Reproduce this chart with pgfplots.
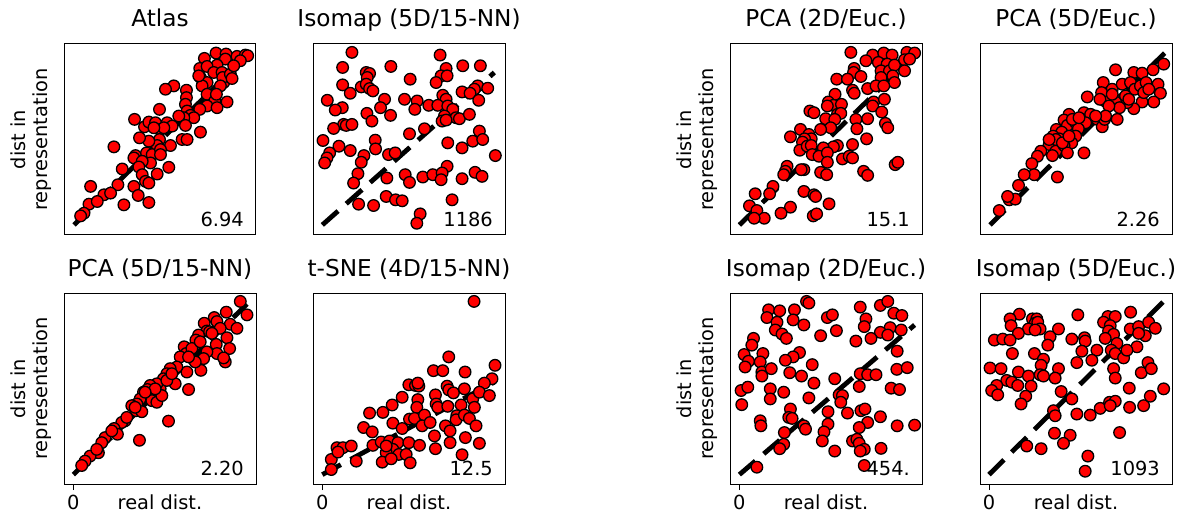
\documentclass[border=0pt]{standalone}
\usepackage{pgfplots}
\pgfplotsset{compat=1.18}
\usepackage{fontspec}
\setmainfont{DejaVu Sans}
\newcommand{\lblfont}{\fontsize{19.4}{22.5}\selectfont}
\newcommand{\ttlfont}{\fontsize{23.2}{26}\selectfont}
\tikzset{score/.style={anchor=base east, font=\lblfont, inner sep=0pt}}
\pgfplotsset{
  panel/.style={
    anchor=north west, width=192pt, height=191pt, scale only axis,
    axis line style={line width=1pt, black},
    xtick=\empty, ytick=\empty,
    title style={at={(0.5,1)}, anchor=base, yshift=11pt, font=\ttlfont},
  },
  leftpanel/.style={
    ylabel={dist in\\representation},
    ylabel style={at={(axis description cs:-0.0625,0.5)}, anchor=south, align=center, font=\lblfont, inner sep=0pt},
  },
  bottompanel/.style={
    xlabel={real dist.},
    xlabel style={at={(axis description cs:0.5,0)}, anchor=base, yshift=-25pt, font=\lblfont, inner sep=0pt},
    xtick={#1}, xticklabels={0},
    xticklabel style={anchor=base, yshift=-19pt, font=\lblfont, inner sep=0pt},
    tick align=outside, major tick length=6pt, xtick pos=left,
    tick style={line width=1pt, black},
  },
  pts/.style={only marks, mark=*, mark size=5.8pt, mark options={fill=red, draw=black, line width=1.3pt}},
  diag/.style={black, line width=4.8pt, dash pattern=on 21pt off 11pt},
}
\begin{document}
\begin{tikzpicture}
\useasboundingbox (0,0) rectangle (1182pt,-513pt);
% ---------------- Atlas
\begin{axis}[panel, leftpanel, at={(64pt,-44pt)}, title={Atlas}, xmin=10, xmax=587, ymin=15, ymax=585]
\addplot[pts] coordinates {(432,542) (467,558) (497,555) (530,548) (555,552) (562,550) (495,540) (470,522) (418,512) (440,518) (460,500) (485,500) (420,485) (440,470) (425,460) (415,490) (490,470) (487,485) (510,495) (540,535) (520,520) (515,482) (480,460) (440,435) (463,415) (468,435) (500,412) (440,400) (470,395) (418,390) (378,447) (378,425) (340,460) (315,450) (375,405) (380,385) (390,372) (400,365) (370,365) (355,370) (297,390) (222,360) (252,338) (265,352) (285,350) (300,330) (320,350) (335,340) (310,335) (280,335) (375,342) (420,322) (365,300) (380,300) (330,282) (297,300) (290,282) (265,295) (237,305) (160,278) (225,252) (220,245) (258,260) (275,255) (300,270) (300,255) (270,230) (245,235) (235,218) (325,217) (290,197) (245,195) (255,175) (265,170) (185,212) (172,165) (220,160) (90,160) (233,133) (265,112) (190,105) (85,107) (130,135) (110,115) (70,80) (60,72) (150,140)};
\addplot[diag] coordinates {(40,45) (565,555)};
\node[score] at (rel axis cs:0.9375,0.042) {6.94};
\end{axis}
% ---------------- Isomap (5D/15-NN)
\begin{axis}[panel, at={(313pt,-44pt)}, title={Isomap (5D/15-NN)}, xmin=10, xmax=587, ymin=15, ymax=585]
\addplot[pts] coordinates {(127,560) (392,552) (99,515) (244,518) (460,520) (513,520) (410,512) (170,500) (180,497) (173,485) (395,490) (413,490) (302,480) (380,470) (99,463) (155,457) (170,465) (180,452) (190,445) (122,438) (505,460) (495,450) (535,453) (458,442) (482,438) (400,432) (410,420) (508,417) (53,417) (225,420) (285,420) (323,415) (358,402) (385,402) (98,395) (77,388) (213,395) (316,390) (415,400) (430,390) (172,378) (243,372) (187,355) (405,370) (440,365) (450,362) (480,375) (398,355) (410,358) (102,345) (110,342) (127,345) (72,333) (345,332) (300,317) (510,325) (40,297) (197,298) (415,290) (490,295) (520,300) (88,280) (198,272) (122,267) (458,275) (60,260) (52,245) (45,230) (163,252) (155,232) (237,255) (257,260) (558,252) (413,220) (145,198) (132,170) (232,185) (287,195) (300,172) (340,188) (370,195) (398,200) (395,180) (497,202) (518,190) (458,183) (147,107) (192,103) (230,130) (258,120) (278,117) (428,120) (332,78) (322,50)};
\addplot[diag] coordinates {(38,45) (555,500)};
\node[score] at (rel axis cs:0.9375,0.042) {1186};
\end{axis}
% ---------------- PCA (2D/Euc.)
\begin{axis}[panel, leftpanel, at={(730pt,-44pt)}, title={PCA (2D/Euc.)}, xmin=20, xmax=592, ymin=15, ymax=585]
\addplot[pts] coordinates {(380,560) (445,552) (478,558) (503,552) (547,560) (570,558) (425,535) (462,530) (488,525) (470,505) (495,505) (510,522) (540,538) (555,540) (390,512) (388,500) (338,480) (370,480) (410,488) (540,505) (505,490) (510,470) (470,485) (430,452) (455,460) (478,460) (385,447) (390,438) (333,435) (313,412) (328,402) (352,405) (310,400) (448,412) (480,420) (445,400) (472,382) (258,385) (270,380) (340,375) (350,378) (305,362) (395,360) (430,362) (483,348) (490,335) (332,360) (320,335) (290,330) (230,330) (255,315) (262,302) (242,302) (200,308) (236,292) (228,268) (250,280) (262,282) (398,332) (427,302) (340,282) (328,278) (385,285) (298,275) (265,255) (285,250) (310,260) (310,232) (355,242) (375,250) (385,245) (512,225) (520,232) (190,220) (185,205) (180,195) (240,210) (232,210) (290,202) (308,195) (418,205) (430,193) (148,160) (95,138) (240,145) (270,135) (275,130) (78,102) (100,88) (122,65) (92,65) (200,98) (172,80) (268,72) (278,78) (315,108) (138,138)};
\addplot[diag] coordinates {(48,45) (570,552)};
\node[score] at (rel axis cs:0.9375,0.042) {15.1};
\end{axis}
% ---------------- PCA (5D/Euc.)
\begin{axis}[panel, at={(980pt,-44pt)}, title={PCA (5D/Euc.)}, xmin=12, xmax=590, ymin=15, ymax=585]
\addplot[pts] coordinates {(420,508) (475,500) (500,498) (565,525) (533,508) (383,470) (410,450) (440,465) (465,470) (478,450) (495,460) (512,470) (548,465) (555,438) (535,412) (500,412) (475,392) (455,410) (440,420) (420,412) (432,395) (425,360) (388,415) (378,440) (373,420) (335,427) (325,380) (318,360) (345,375) (365,360) (380,338) (387,360) (280,375) (265,358) (275,342) (242,330) (268,300) (258,322) (300,350) (330,350) (308,332) (300,310) (288,290) (250,302) (232,310) (220,285) (240,265) (265,282) (275,260) (325,260) (230,252) (195,265) (185,250) (168,228) (175,195) (145,195) (128,163) (245,188) (100,120) (118,122) (70,88) (95,130) (410,435) (400,400) (290,360) (310,365) (240,300) (260,290) (280,310) (220,300) (450,430) (505,440) (520,450) (390,370) (360,370) (460,420)};
\addplot[diag] coordinates {(42,45) (568,558)};
\node[score] at (rel axis cs:0.9375,0.042) {2.26};
\end{axis}
% ---------------- PCA (5D/15-NN)
\begin{axis}[panel, leftpanel, bottompanel=40, at={(64pt,-293pt)}, title={PCA (5D/15-NN)}, xmin=12, xmax=587, ymin=17, ymax=585]
\addplot[pts] coordinates {(540,560) (560,520) (498,528) (462,512) (470,500) (432,495) (440,472) (415,460) (407,445) (448,470) (510,492) (530,480) (480,480) (500,452) (508,420) (468,432) (470,405) (495,380) (490,392) (440,410) (430,390) (422,355) (405,380) (372,425) (378,405) (360,395) (380,350) (350,365) (330,360) (320,345) (345,315) (310,330) (300,300) (290,315) (270,310) (262,298) (265,280) (250,290) (240,270) (275,265) (290,260) (305,280) (230,255) (215,250) (228,235) (245,232) (385,298) (325,204) (195,205) (185,200) (162,182) (172,165) (238,147) (135,155) (125,140) (115,110) (90,100) (75,85) (65,72) (285,300) (255,290) (320,325) (335,345) (225,245) (200,215) (155,175) (110,120) (395,420) (420,440) (455,465) (385,395)};
\addplot[diag] coordinates {(40,45) (560,552)};
\node[score] at (rel axis cs:0.9375,0.042) {2.20};
\end{axis}
% ---------------- t-SNE (4D/15-NN)
\begin{axis}[panel, bottompanel=38, at={(313pt,-293pt)}, title={t-SNE (4D/15-NN)}, xmin=10, xmax=587, ymin=17, ymax=585]
\addplot[pts] coordinates {(494,560) (418,395) (557,370) (372,354) (400,354) (467,350) (548,330) (525,317) (298,312) (318,310) (328,308) (325,317) (413,308) (418,297) (432,288) (465,300) (378,282) (278,275) (325,268) (380,255) (385,245) (322,245) (248,252) (180,228) (220,230) (300,210) (315,212) (345,222) (415,248) (455,252) (490,270) (510,290) (540,280) (495,245) (442,220) (440,208) (465,222) (480,212) (162,185) (188,172) (250,198) (278,182) (338,190) (362,200) (408,190) (422,175) (500,190) (375,160) (468,155) (422,140) (510,138) (378,122) (458,104) (190,132) (215,142) (240,145) (265,140) (298,140) (330,132) (250,120) (230,110) (268,105) (290,105) (218,82) (245,92) (302,80) (82,125) (100,125) (125,130) (65,90) (140,85) (230,130) (85,112) (65,60)};
\addplot[diag] coordinates {(38,45) (555,320)};
\node[score] at (rel axis cs:0.9375,0.042) {12.5};
\end{axis}
% ---------------- Isomap (2D/Euc.)
\begin{axis}[panel, leftpanel, bottompanel=48, at={(730pt,-293pt)}, title={Isomap (2D/Euc.)}, xmin=20, xmax=592, ymin=17, ymax=585]
\addplot[pts] coordinates {(248,560) (255,555) (408,543) (468,548) (490,560) (135,535) (168,532) (212,535) (130,512) (208,505) (160,498) (240,490) (310,512) (325,520) (425,508) (508,525) (532,518) (420,485) (497,482) (530,475) (468,468) (490,460) (155,475) (175,463) (188,450) (290,458) (337,473) (395,442) (440,450) (90,450) (85,430) (518,412) (62,402) (118,405) (227,408) (208,395) (185,385) (75,382) (65,365) (110,380) (265,372) (198,348) (115,350) (115,338) (143,360) (233,338) (332,330) (408,345) (430,342) (455,342) (517,358) (548,363) (53,295) (73,305) (140,300) (180,290) (270,317) (405,307) (500,302) (525,298) (55,253) (140,270) (255,273) (345,282) (355,280) (350,260) (200,240) (195,215) (205,212) (110,205) (112,190) (312,232) (370,228) (410,235) (422,240) (468,217) (430,200) (405,185) (518,190) (570,192) (240,190) (245,180) (182,170) (312,195) (300,172) (295,145) (385,145) (398,150) (405,138) (420,120) (408,115) (470,123) (180,135) (168,122) (332,115) (100,67) (420,72)};
\addplot[diag] coordinates {(48,45) (570,490)};
\node[score] at (rel axis cs:0.9375,0.042) {454.};
\end{axis}
% ---------------- Isomap (5D/Euc.)
\begin{axis}[panel, bottompanel=42, at={(980pt,-293pt)}, title={Isomap (5D/Euc.)}, xmin=15, xmax=590, ymin=17, ymax=585]
\addplot[pts] coordinates {(133,522) (105,508) (108,488) (172,508) (185,508) (180,495) (188,498) (195,478) (160,478) (180,475) (130,465) (225,455) (250,478) (58,445) (83,448) (105,445) (218,430) (290,448) (308,520) (328,452) (330,442) (398,515) (420,515) (385,498) (405,488) (400,472) (415,462) (390,450) (466,528) (465,478) (490,485) (520,498) (540,480) (510,458) (490,465) (485,425) (425,435) (408,415) (420,405) (445,392) (455,415) (365,415) (320,412) (350,385) (305,378) (112,405) (178,405) (205,388) (198,370) (250,360) (45,362) (78,360) (130,350) (95,325) (110,320) (128,310) (160,338) (195,342) (205,338) (240,332) (168,308) (65,310) (50,295) (68,282) (152,278) (138,255) (258,292) (290,270) (235,235) (240,220) (305,225) (345,222) (375,242) (403,260) (420,263) (405,250) (463,245) (505,250) (525,278) (565,300) (462,302) (498,348) (518,378) (528,360) (415,360) (420,332) (238,168) (285,162) (265,138) (433,170) (155,130) (198,122) (338,100) (330,55)};
\addplot[diag] coordinates {(42,45) (565,560)};
\node[score] at (rel axis cs:0.9375,0.042) {1093};
\end{axis}
\end{tikzpicture}
\end{document}
